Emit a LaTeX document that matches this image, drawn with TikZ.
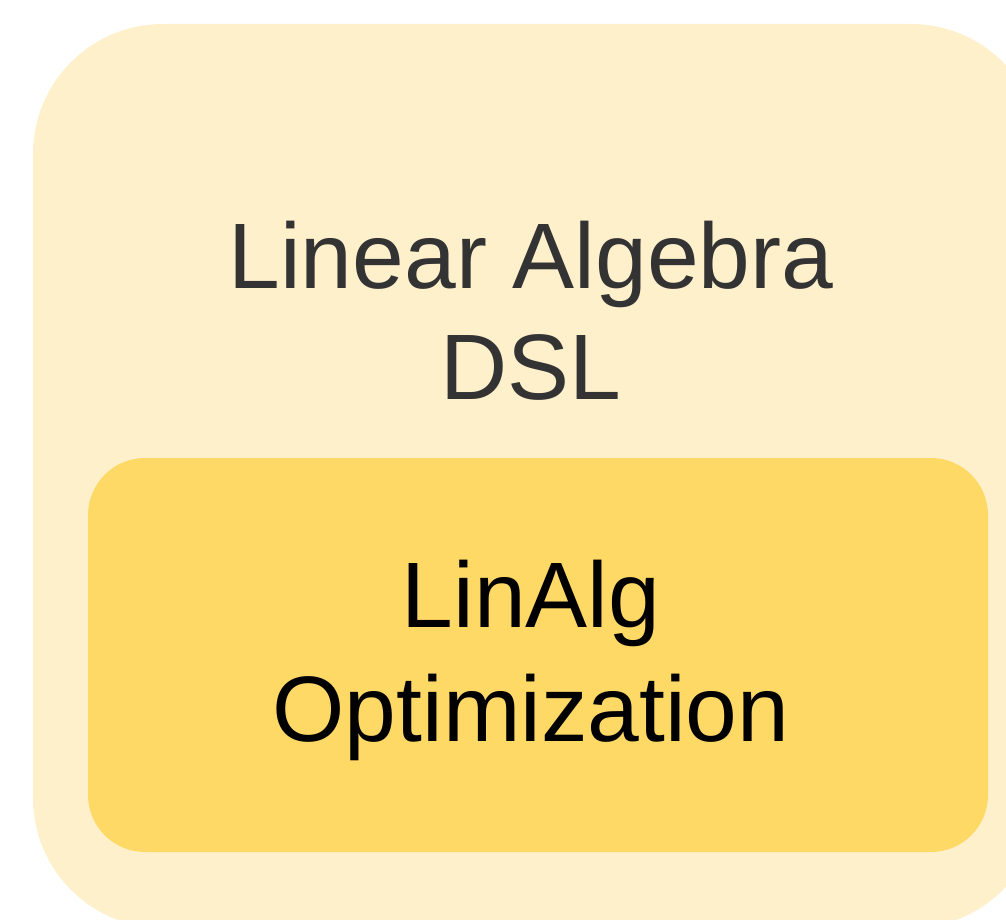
\documentclass[tikz,border=0pt]{standalone}
\usepackage{fontspec}
\setmainfont{Liberation Sans}
\usepackage{tikz}
\definecolor{dslfill}{HTML}{FFF0CC}
\definecolor{optfill}{HTML}{FFD966}
\definecolor{dsltext}{HTML}{333333}

\begin{document}
\begin{tikzpicture}[x=1pt, y=-1pt,
    bigtext/.style={inner sep=0pt, align=center, anchor=north,
      font=\fontsize{93}{111}\selectfont}]
    \useasboundingbox (0,0) rectangle (1006,920);
    \clip (0,0) rectangle (1006,920);
    % outer block, running off the right and bottom edges
    \fill[dslfill, rounded corners=130pt] (33,24) rectangle (1041,928);
    \node[bigtext, text=dsltext] (dsl) at (531,221) {Linear Algebra\\DSL};
    % inner block
    \fill[optfill, rounded corners=57pt] (88,458) rectangle (988,852);
    \node[bigtext, text=black, font=\fontsize{93}{114}\selectfont] (opt) at (531,560) {LinAlg\\Optimization};
\end{tikzpicture}
\end{document}
